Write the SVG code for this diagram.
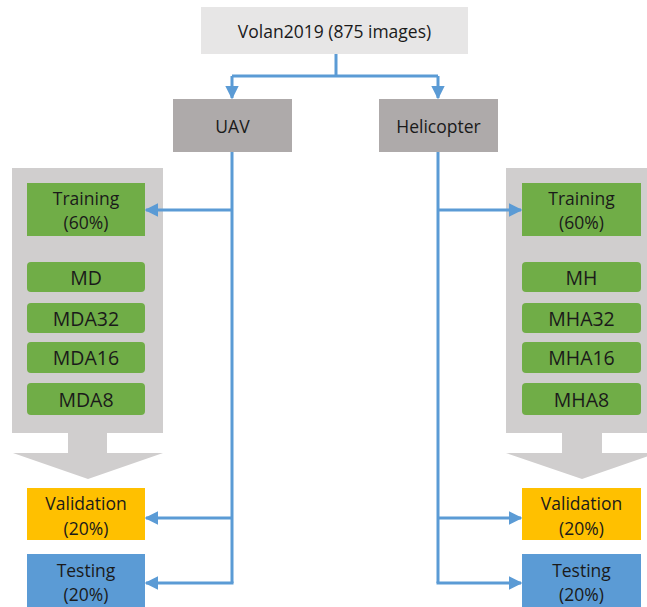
<svg xmlns="http://www.w3.org/2000/svg" width="647" height="607" viewBox="0 0 647 607">
  <style>
    text { font-family: "Open Sans", "Liberation Sans", sans-serif; font-size: 17.5px; fill: #1a1a1a; text-anchor: middle; dominant-baseline: central; }
    text.big { font-size: 19.5px; }
    .link { fill: none; stroke: #5b9bd5; stroke-width: 3; }
    .green { fill: #70ad47; }
    .panel { fill: #d0cece; }
  </style>
  <defs>
    <marker id="arrow" viewBox="0 0 10 10" refX="9" refY="5" markerWidth="4.5" markerHeight="4.5" orient="auto" markerUnits="strokeWidth">
      <path d="M0,0 L10,5 L0,10 z" fill="#5b9bd5"/>
    </marker>
  </defs>

  <rect width="647" height="607" fill="#ffffff"/>

  <!-- block-arrow panels holding the training sets -->
  <g id="panel-uav">
    <path class="panel" d="M12,168 H163 V433 H107 V453 H163 L88,479 L13,453 H68 V433 H12 Z"/>
  </g>
  <g id="panel-heli">
    <path class="panel" d="M506,168 H657 V433 H602 V453 H657 L582,479 L506,453 H562 V433 H506 Z"/>
  </g>

  <g id="connectors">
    <path class="link" d="M336,54 V76"/>
    <path class="link" d="M232,76 H438"/>
    <path class="link" d="M232,76 V98" marker-end="url(#arrow)"/>
    <path class="link" d="M438,76 V98" marker-end="url(#arrow)"/>
    <!-- UAV branch -->
    <path class="link" d="M232,152 V583"/>
    <path class="link" d="M232,210 H146" marker-end="url(#arrow)"/>
    <path class="link" d="M232,518 H146" marker-end="url(#arrow)"/>
    <path class="link" d="M233.5,583 H146" marker-end="url(#arrow)"/>
    <!-- Helicopter branch -->
    <path class="link" d="M438,152 V583"/>
    <path class="link" d="M438,210 H521" marker-end="url(#arrow)"/>
    <path class="link" d="M438,518 H521" marker-end="url(#arrow)"/>
    <path class="link" d="M436.5,583 H521" marker-end="url(#arrow)"/>
  </g>

  <g id="volan">
    <rect x="201" y="7" width="267" height="47" fill="#e7e6e6"/>
    <text x="334.5" y="31">Volan2019 (875 images)</text>
  </g>
  <g id="uav">
    <rect x="173" y="99" width="119" height="53" fill="#aeaaaa"/>
    <text x="232.5" y="126">UAV</text>
  </g>
  <g id="helicopter">
    <rect x="379" y="99" width="119" height="53" fill="#aeaaaa"/>
    <text x="438.5" y="126">Helicopter</text>
  </g>

  <!-- UAV splits -->
  <g id="train-uav">
    <rect class="green" x="27" y="183" width="118" height="53"/>
    <text x="86" y="198">Training</text>
    <text x="86" y="222">(60%)</text>
  </g>
  <g id="md">
    <rect class="green" x="27" y="262" width="118" height="30" rx="4"/>
    <text class="big" x="86" y="277">MD</text>
  </g>
  <g id="mda32">
    <rect class="green" x="27" y="303" width="118" height="30" rx="4"/>
    <text class="big" x="86" y="318">MDA32</text>
  </g>
  <g id="mda16">
    <rect class="green" x="27" y="342" width="118" height="31" rx="4"/>
    <text class="big" x="86" y="357.5">MDA16</text>
  </g>
  <g id="mda8">
    <rect class="green" x="27" y="383" width="118" height="32" rx="4"/>
    <text class="big" x="86" y="399">MDA8</text>
  </g>
  <g id="val-uav">
    <rect x="27" y="488" width="118" height="52" fill="#ffc000"/>
    <text x="86" y="503">Validation</text>
    <text x="86" y="528">(20%)</text>
  </g>
  <g id="test-uav">
    <rect x="27" y="554" width="118" height="60" fill="#5b9bd5"/>
    <text x="86" y="570">Testing</text>
    <text x="86" y="594">(20%)</text>
  </g>

  <!-- Helicopter splits -->
  <g id="train-heli">
    <rect class="green" x="522" y="183" width="119" height="53"/>
    <text x="581.5" y="198">Training</text>
    <text x="581.5" y="222">(60%)</text>
  </g>
  <g id="mh">
    <rect class="green" x="522" y="262" width="119" height="30" rx="4"/>
    <text class="big" x="581.5" y="277">MH</text>
  </g>
  <g id="mha32">
    <rect class="green" x="522" y="303" width="119" height="30" rx="4"/>
    <text class="big" x="581.5" y="318">MHA32</text>
  </g>
  <g id="mha16">
    <rect class="green" x="522" y="342" width="119" height="31" rx="4"/>
    <text class="big" x="581.5" y="357.5">MHA16</text>
  </g>
  <g id="mha8">
    <rect class="green" x="522" y="383" width="119" height="32" rx="4"/>
    <text class="big" x="581.5" y="399">MHA8</text>
  </g>
  <g id="val-heli">
    <rect x="522" y="488" width="119" height="52" fill="#ffc000"/>
    <text x="581.5" y="503">Validation</text>
    <text x="581.5" y="528">(20%)</text>
  </g>
  <g id="test-heli">
    <rect x="522" y="554" width="119" height="60" fill="#5b9bd5"/>
    <text x="581.5" y="570">Testing</text>
    <text x="581.5" y="594">(20%)</text>
  </g>
</svg>
